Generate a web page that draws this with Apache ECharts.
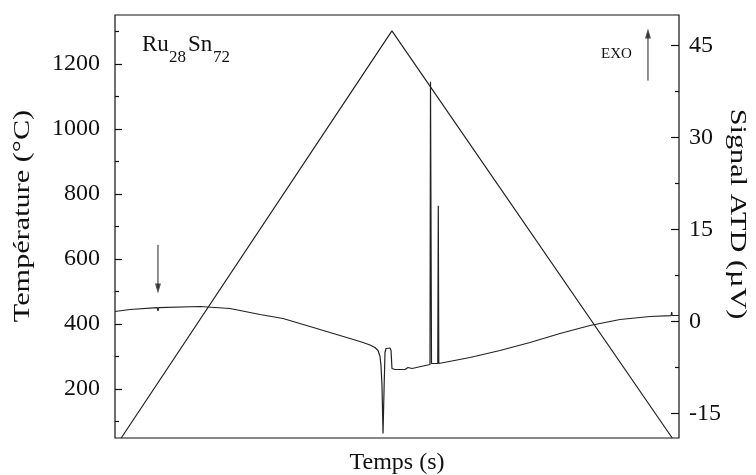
<!DOCTYPE html>
<html>
<head>
<meta charset="utf-8">
<script src="https://cdn.jsdelivr.net/npm/echarts@6/dist/echarts.min.js"></script>
<style>html,body{margin:0;padding:0;background:#fff}#chart{width:756px;height:475px}</style>
</head>
<body>
<div id="chart"></div>
<script>
// Temperature programme (left axis, °C) vs time (arbitrary units, 0..100)
const tempTime = [1.1, 49.1, 98.8];
const tempValues = [50, 1301, 50];

// DTA signal (right axis, µV)
const sigTime = [0.00, 2.66, 7.50, 7.62, 7.74, 15.07, 20.39, 25.71, 29.79, 34.57, 39.89, 42.55, 43.97, 45.21, 46.10, 46.63, 46.99, 47.16, 47.34, 47.52, 47.70, 47.87, 48.05, 48.76, 48.94, 49.11, 49.65, 51.42, 51.95, 52.66, 55.85, 55.94, 56.12, 57.23, 57.32, 57.41, 57.62, 62.94, 68.26, 73.58, 78.90, 84.22, 89.54, 94.86, 98.60, 98.70, 98.80, 100.0];
const sigValues = [1.63, 1.96, 2.28, 1.75, 2.28, 2.45, 2.12, 1.14, 0.49, -0.82, -2.28, -3.02, -3.42, -3.83, -4.24, -4.73, -5.71, -7.17, -10.44, -18.26, -11.25, -5.05, -4.40, -4.32, -4.73, -7.66, -7.83, -7.83, -7.50, -7.66, -7.01, 39.1, -6.85, -6.85, 18.9, -6.85, -6.77, -5.87, -4.73, -3.42, -1.96, -0.65, 0.33, 0.82, 0.95, 1.55, 0.98, 0.98];

// Axis ticks
const leftMajor = [200, 400, 600, 800, 1000, 1200];
const leftMinor = [100, 300, 500, 700, 900, 1100, 1300];
const rightMajor = [-15, 0, 15, 30, 45];
const rightMinor = [-7.5, 7.5, 22.5, 37.5];

// Annotation arrows (time, signal): shaft start, shaft end (head position)
const arrowDown = [[7.62, 12.5], [7.62, 5.4]];
const arrowExo = [[94.5, 39.3], [94.5, 47.0]];

const FONT = 'Liberation Serif';
const INK = '#111';
const chart = echarts.init(document.getElementById('chart'));

const baseY = {type: 'value', splitLine: {show: false}, axisLine: {show: false}};
const fmt = v => String(v);

chart.setOption({
  animation: false,
  backgroundColor: '#fff',
  grid: {left: 115, right: 77, top: 15, bottom: 37, show: true, borderColor: INK, borderWidth: 1.2,
         outerBoundsMode: 'none', containLabel: false},
  xAxis: {
    type: 'value', min: 0, max: 100,
    axisLine: {show: false}, axisTick: {show: false}, axisLabel: {show: false}, splitLine: {show: false},
    name: 'Temps (s)', nameLocation: 'middle', nameGap: 13,
    nameTextStyle: {fontFamily: FONT, fontSize: 24, color: INK}
  },
  yAxis: [
    Object.assign({}, baseY, {
      position: 'left', min: 50, max: 1350,
      axisTick: {show: true, inside: true, length: 7, customValues: leftMajor, lineStyle: {color: INK, width: 1.2}},
      axisLabel: {customValues: leftMajor, formatter: fmt, fontFamily: FONT, fontSize: 24, color: INK, margin: 15}
    }),
    Object.assign({}, baseY, {
      position: 'left', min: 50, max: 1350,
      axisTick: {show: true, inside: true, length: 4, customValues: leftMinor, lineStyle: {color: INK, width: 1.2}},
      axisLabel: {show: false}
    }),
    Object.assign({}, baseY, {
      position: 'right', min: -19, max: 50,
      axisTick: {show: true, inside: true, length: 8, customValues: rightMajor, lineStyle: {color: INK, width: 1.2}},
      axisLabel: {customValues: rightMajor, formatter: fmt, fontFamily: FONT, fontSize: 24, color: INK, margin: 10}
    }),
    Object.assign({}, baseY, {
      position: 'right', min: -19, max: 50,
      axisTick: {show: true, inside: true, length: 4, customValues: rightMinor, lineStyle: {color: INK, width: 1.2}},
      axisLabel: {show: false}
    })
  ],
  series: [
    {
      type: 'line', yAxisIndex: 0, symbol: 'none', silent: true,
      data: tempTime.map((t, i) => [t, tempValues[i]]),
      lineStyle: {color: '#222', width: 1.2}
    },
    {
      type: 'line', yAxisIndex: 2, symbol: 'none', silent: true,
      data: sigTime.map((t, i) => [t, sigValues[i]]),
      lineStyle: {color: '#222', width: 1.2}
    },
    {
      type: 'line', yAxisIndex: 2, symbol: 'none', silent: true,
      data: arrowDown, lineStyle: {color: '#222', width: 1}
    },
    {
      type: 'line', yAxisIndex: 2, symbol: 'none', silent: true,
      data: arrowExo, lineStyle: {color: '#222', width: 1}
    },
    {
      type: 'scatter', yAxisIndex: 2, silent: true, symbol: 'triangle', symbolSize: [6, 10], symbolRotate: 180,
      data: [arrowDown[1]], itemStyle: {color: '#222'}
    },
    {
      type: 'scatter', yAxisIndex: 2, silent: true, symbol: 'triangle', symbolSize: [6, 10],
      data: [arrowExo[1]], itemStyle: {color: '#222'}
    }
  ],
  graphic: [
    {type: 'text', x: 23, y: 216, rotation: Math.PI / 2, scaleX: 1.26,
     style: {text: 'Température (°C)', font: '24px "Liberation Serif"', fill: INK, align: 'center', verticalAlign: 'middle'}},
    {type: 'text', x: 737, y: 214, rotation: -Math.PI / 2, scaleX: 1.26,
     style: {text: 'Signal ATD (µV)', font: '24px "Liberation Serif"', fill: INK, align: 'center', verticalAlign: 'middle'}},
    {type: 'text', left: 142, top: 33, style: {text: 'Ru', font: '23px "Liberation Serif"', fill: INK}},
    {type: 'text', left: 169, top: 49, style: {text: '28', font: '17px "Liberation Serif"', fill: INK}},
    {type: 'text', left: 188, top: 33, style: {text: 'Sn', font: '23px "Liberation Serif"', fill: INK}},
    {type: 'text', left: 213, top: 49, style: {text: '72', font: '17px "Liberation Serif"', fill: INK}},
    {type: 'text', left: 601, top: 47, style: {text: 'EXO', font: '15px "Liberation Serif"', fill: INK}}
  ]
});
</script>
</body>
</html>
